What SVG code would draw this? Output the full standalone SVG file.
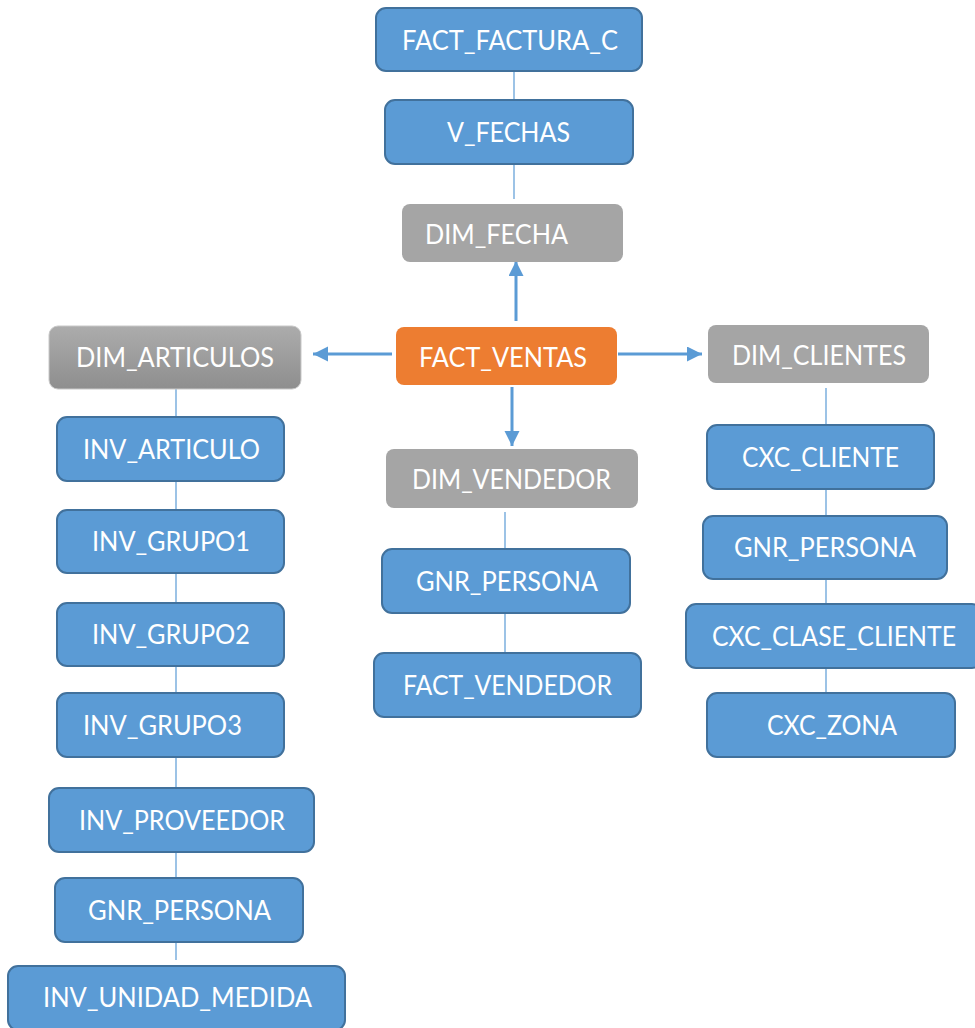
<svg xmlns="http://www.w3.org/2000/svg" width="975" height="1028" viewBox="0 0 975 1028">
  <style>
    .tbl { fill: #5B9BD5; stroke: #41719C; stroke-width: 2; }
    .dim { fill: #A5A5A5; }
    .fact { fill: #ED7D31; }
    .lbl { font-family: Lato, "Open Sans", "Liberation Sans", sans-serif; font-size: 26px; fill: #FFFFFF; text-anchor: middle; }
    .link { stroke: #5B9BD5; stroke-width: 1.2; fill: none; }
    .arrow { stroke: #5B9BD5; stroke-width: 3; fill: none; marker-end: url(#head); }
  </style>
  <defs>
    <marker id="head" markerUnits="userSpaceOnUse" markerWidth="16" markerHeight="16" refX="15" refY="7.5" orient="auto">
      <path d="M0,0 L15,7.5 L0,15 Z" fill="#5B9BD5"/>
    </marker>
    <linearGradient id="grayShade" x1="0" y1="0" x2="0" y2="1">
      <stop offset="0" stop-color="#ACACAC"/>
      <stop offset="1" stop-color="#8E8E8E"/>
    </linearGradient>
  </defs>
  <rect width="975" height="1028" fill="#FFFFFF"/>

  <!-- connectors -->
  <g id="connectors">
    <line class="link" x1="514" y1="71" x2="514" y2="100"/>
    <line class="link" x1="514" y1="164" x2="514" y2="199"/>
    <line class="link" x1="176" y1="389" x2="176" y2="417"/>
    <line class="link" x1="176" y1="481" x2="176" y2="510"/>
    <line class="link" x1="176" y1="573" x2="176" y2="603"/>
    <line class="link" x1="176" y1="666" x2="176" y2="693"/>
    <line class="link" x1="176" y1="757" x2="176" y2="788"/>
    <line class="link" x1="176" y1="852" x2="176" y2="878"/>
    <line class="link" x1="176" y1="942" x2="176" y2="960"/>
    <line class="link" x1="505" y1="512" x2="505" y2="549"/>
    <line class="link" x1="505" y1="613" x2="505" y2="653"/>
    <line class="link" x1="826" y1="388" x2="826" y2="425"/>
    <line class="link" x1="826" y1="489" x2="826" y2="516"/>
    <line class="link" x1="826" y1="579" x2="826" y2="604"/>
    <line class="link" x1="826" y1="668" x2="826" y2="693"/>
    <line class="arrow" x1="516" y1="321" x2="516" y2="261"/>
    <line class="arrow" x1="392" y1="354" x2="313" y2="354"/>
    <line class="arrow" x1="618" y1="354" x2="702" y2="354"/>
    <line class="arrow" x1="512" y1="387" x2="512" y2="446"/>
  </g>

  <!-- centre column -->
  <g id="fact_factura_c">
    <rect class="tbl" x="376" y="8" width="266" height="63" rx="10"/>
    <text class="lbl" x="510" y="50" textLength="216" lengthAdjust="spacingAndGlyphs">FACT_FACTURA_C</text>
  </g>
  <g id="v_fechas">
    <rect class="tbl" x="385" y="100" width="248" height="64" rx="10"/>
    <text class="lbl" x="508.5" y="142" textLength="123" lengthAdjust="spacingAndGlyphs">V_FECHAS</text>
  </g>
  <g id="dim_fecha">
    <rect class="dim" x="402" y="204" width="221" height="58" rx="8"/>
    <text class="lbl" x="496.5" y="244" textLength="143" lengthAdjust="spacingAndGlyphs">DIM_FECHA</text>
  </g>
  <g id="fact_ventas">
    <rect class="fact" x="396" y="327" width="221" height="58" rx="8"/>
    <text class="lbl" x="503" y="367" textLength="168" lengthAdjust="spacingAndGlyphs">FACT_VENTAS</text>
  </g>
  <g id="dim_vendedor">
    <rect class="dim" x="386" y="449" width="252" height="59" rx="8"/>
    <text class="lbl" x="511.5" y="489" textLength="199" lengthAdjust="spacingAndGlyphs">DIM_VENDEDOR</text>
  </g>
  <g id="gnr_persona_vendedor">
    <rect class="tbl" x="382" y="549" width="248" height="64" rx="10"/>
    <text class="lbl" x="507" y="591" textLength="182" lengthAdjust="spacingAndGlyphs">GNR_PERSONA</text>
  </g>
  <g id="fact_vendedor">
    <rect class="tbl" x="374" y="653" width="267" height="64" rx="10"/>
    <text class="lbl" x="507.5" y="695" textLength="209" lengthAdjust="spacingAndGlyphs">FACT_VENDEDOR</text>
  </g>

  <!-- article branch -->
  <g id="dim_articulos">
    <rect x="49" y="326" width="252" height="63" rx="9" fill="url(#grayShade)" stroke="#C8C8C8" stroke-width="1"/>
    <text class="lbl" x="175" y="367" textLength="198" lengthAdjust="spacingAndGlyphs">DIM_ARTICULOS</text>
  </g>
  <g id="inv_articulo">
    <rect class="tbl" x="57" y="417" width="227" height="64" rx="10"/>
    <text class="lbl" x="171.5" y="459" textLength="177" lengthAdjust="spacingAndGlyphs">INV_ARTICULO</text>
  </g>
  <g id="inv_grupo1">
    <rect class="tbl" x="57" y="510" width="227" height="63" rx="10"/>
    <text class="lbl" x="171" y="551" textLength="158" lengthAdjust="spacingAndGlyphs">INV_GRUPO1</text>
  </g>
  <g id="inv_grupo2">
    <rect class="tbl" x="57" y="603" width="227" height="63" rx="10"/>
    <text class="lbl" x="171" y="644" textLength="158" lengthAdjust="spacingAndGlyphs">INV_GRUPO2</text>
  </g>
  <g id="inv_grupo3">
    <rect class="tbl" x="57" y="693" width="227" height="64" rx="10"/>
    <text class="lbl" x="162.5" y="735" textLength="159" lengthAdjust="spacingAndGlyphs">INV_GRUPO3</text>
  </g>
  <g id="inv_proveedor">
    <rect class="tbl" x="49" y="788" width="265" height="64" rx="10"/>
    <text class="lbl" x="182" y="830" textLength="206" lengthAdjust="spacingAndGlyphs">INV_PROVEEDOR</text>
  </g>
  <g id="gnr_persona_proveedor">
    <rect class="tbl" x="55" y="878" width="248" height="64" rx="10"/>
    <text class="lbl" x="179.5" y="920" textLength="183" lengthAdjust="spacingAndGlyphs">GNR_PERSONA</text>
  </g>
  <g id="inv_unidad_medida">
    <rect class="tbl" x="8" y="966" width="337" height="64" rx="10"/>
    <text class="lbl" x="177.5" y="1007" textLength="269" lengthAdjust="spacingAndGlyphs">INV_UNIDAD_MEDIDA</text>
  </g>

  <!-- customer branch -->
  <g id="dim_clientes">
    <rect class="dim" x="708" y="325" width="221" height="58" rx="8"/>
    <text class="lbl" x="819" y="365" textLength="174" lengthAdjust="spacingAndGlyphs">DIM_CLIENTES</text>
  </g>
  <g id="cxc_cliente">
    <rect class="tbl" x="707" y="425" width="227" height="64" rx="10"/>
    <text class="lbl" x="820.5" y="467" textLength="157" lengthAdjust="spacingAndGlyphs">CXC_CLIENTE</text>
  </g>
  <g id="gnr_persona_cliente">
    <rect class="tbl" x="703" y="516" width="244" height="63" rx="10"/>
    <text class="lbl" x="825" y="557" textLength="182" lengthAdjust="spacingAndGlyphs">GNR_PERSONA</text>
  </g>
  <g id="cxc_clase_cliente">
    <rect class="tbl" x="686" y="604" width="296" height="64" rx="10"/>
    <text class="lbl" x="834" y="646" textLength="244" lengthAdjust="spacingAndGlyphs">CXC_CLASE_CLIENTE</text>
  </g>
  <g id="cxc_zona">
    <rect class="tbl" x="707" y="693" width="248" height="64" rx="10"/>
    <text class="lbl" x="832" y="735" textLength="130" lengthAdjust="spacingAndGlyphs">CXC_ZONA</text>
  </g>
</svg>
